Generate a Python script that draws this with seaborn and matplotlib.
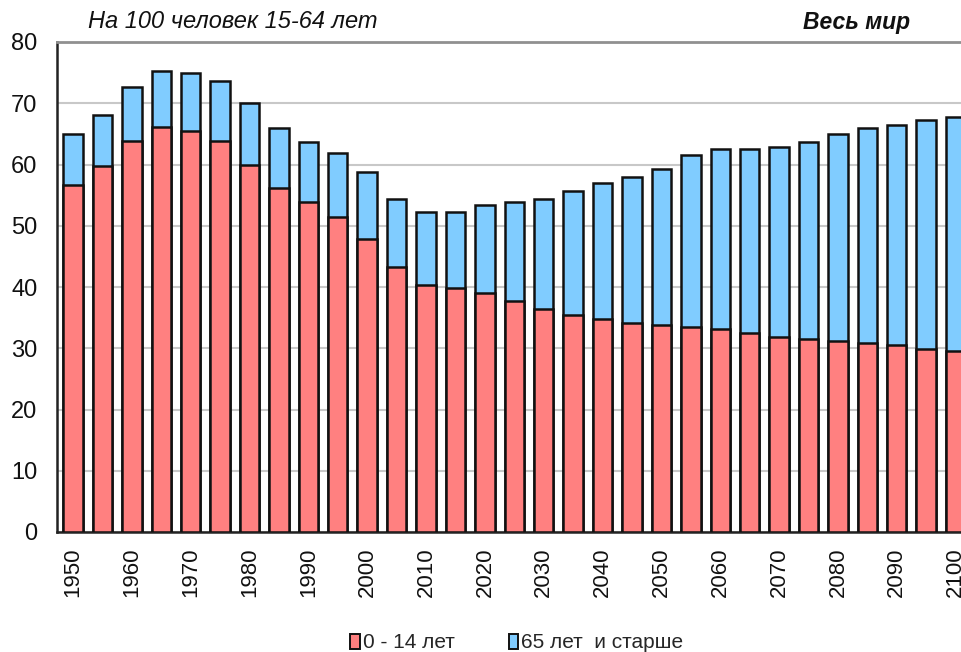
import matplotlib
matplotlib.use("Agg")
import matplotlib.pyplot as plt
import seaborn as sns
import pandas as pd
import numpy as np
from matplotlib.patches import Patch

years = [1950, 1955, 1960, 1965, 1970, 1975, 1980, 1985, 1990, 1995, 2000,
         2005, 2010, 2015, 2020, 2025, 2030, 2035, 2040, 2045, 2050, 2055,
         2060, 2065, 2070, 2075, 2080, 2085, 2090, 2095, 2100]
young = [56.7, 59.7, 63.9, 66.2, 65.5, 63.9, 60.0, 56.1, 53.8, 51.5, 47.9,
         43.3, 40.4, 39.8, 39.1, 37.7, 36.4, 35.5, 34.8, 34.1, 33.8, 33.5,
         33.2, 32.5, 31.9, 31.5, 31.2, 30.9, 30.6, 29.9, 29.6]
old = [8.2, 8.4, 8.8, 9.1, 9.5, 9.8, 10.1, 9.8, 9.8, 10.4, 10.8,
       11.1, 11.8, 12.4, 14.3, 16.1, 18.0, 20.2, 22.2, 23.9, 25.5, 28.1,
       29.4, 30.1, 31.0, 32.1, 33.7, 35.0, 35.9, 37.3, 38.2]
yticks = [0, 10, 20, 30, 40, 50, 60, 70, 80]
series_names = ["0 - 14 лет", "65 лет  и старше"]
title_left = "На 100 человек 15-64 лет"
title_right = "Весь мир"

sns.set_style("white")
plt.rcParams["font.family"] = ["Liberation Sans", "DejaVu Sans"]

df = pd.DataFrame({"year": [str(y) for y in years], "young": young, "old": old})
df["total"] = df["young"] + df["old"]

W, H = 961, 652
fig = plt.figure(figsize=(W / 100, H / 100), dpi=100)
left, right = 57, 970.3
top, bottom = 42, 532
ax = fig.add_axes([left / W, 1 - bottom / H, (right - left) / W, (bottom - top) / H])

red = "#FF8080"
blue = "#80CCFF"
sns.barplot(data=df, x="year", y="total", color=blue, width=0.66,
            edgecolor="#111111", linewidth=1.8, saturation=1, ax=ax, zorder=3)
sns.barplot(data=df, x="year", y="young", color=red, width=0.66,
            edgecolor="#111111", linewidth=1.8, saturation=1, ax=ax, zorder=4)

ax.set_xlim(-0.544, 30.5)
ax.set_ylim(0, 80)
ax.set_yticks(yticks)
ax.set_yticklabels([str(v) for v in yticks], fontsize=17, color="#111111")
pos = list(range(0, len(years), 2))
ax.set_xticks(pos)
ax.set_xticklabels([str(years[i]) for i in pos], rotation=90, fontsize=16,
                   color="#111111", va="top", ha="center")
ax.tick_params(axis="both", length=0)
ax.tick_params(axis="y", pad=14)
ax.tick_params(axis="x", pad=11)
ax.set_xlabel("")
ax.set_ylabel("")

ax.yaxis.grid(True, color="#C8C8C8", linewidth=1.5, zorder=0)
ax.set_axisbelow(True)
ax.spines["right"].set_visible(False)
ax.spines["top"].set_color("#909090")
ax.spines["top"].set_linewidth(2)
ax.spines["left"].set_color("#222222")
ax.spines["left"].set_linewidth(1.8)
ax.spines["bottom"].set_color("#222222")
ax.spines["bottom"].set_linewidth(1.8)

fig.text(88 / W, 1 - 22 / H, title_left, fontsize=17, style="italic",
         ha="left", va="center", color="#111111")
fig.text(910 / W, 1 - 22 / H, title_right, fontsize=16.5, style="italic",
         weight="bold", ha="right", va="center", color="#111111")

handles = [Patch(facecolor=red, edgecolor="#111111", linewidth=1.4, label=series_names[0]),
           Patch(facecolor=blue, edgecolor="#111111", linewidth=1.4, label=series_names[1])]
fig.legend(handles=handles, loc="center", bbox_to_anchor=(517 / W, 1 - 643 / H),
           ncol=2, frameon=False, fontsize=15, handlelength=0.45, handleheight=0.7,
           handletextpad=0.15, columnspacing=2.6, borderaxespad=0)

fig.savefig("out.png", dpi=100)
